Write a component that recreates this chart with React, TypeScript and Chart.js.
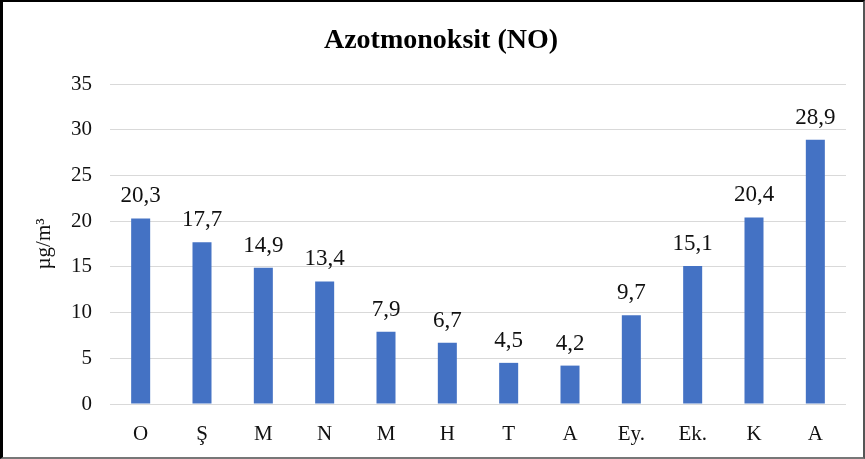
import React, { useEffect, useRef } from "react";
import { Chart, registerables } from "chart.js";

Chart.register(...registerables);

const categories = ["O", "Ş", "M", "N", "M", "H", "T", "A", "Ey.", "Ek.", "K", "A"];
const values = [20.3, 17.7, 14.9, 13.4, 7.9, 6.7, 4.5, 4.2, 9.7, 15.1, 20.4, 28.9];
const valueLabels = ["20,3", "17,7", "14,9", "13,4", "7,9", "6,7", "4,5", "4,2", "9,7", "15,1", "20,4", "28,9"];
const titleText = "Azotmonoksit (NO)";
const yTitle = "µg/m³";

const SERIF = "'Liberation Serif', 'Times New Roman', serif";

const dataLabelPlugin = {
  id: "dataLabels",
  afterDatasetsDraw(chart: any) {
    const ctx = chart.ctx;
    const meta = chart.getDatasetMeta(0);
    ctx.save();
    ctx.font = `23px ${SERIF}`;
    ctx.fillStyle = "#111";
    ctx.textAlign = "center";
    ctx.textBaseline = "alphabetic";
    meta.data.forEach((bar: any, i: number) => {
      ctx.fillText(valueLabels[i], bar.x, bar.y - 16);
    });
    ctx.restore();
  },
};

const titlePlugin = {
  id: "customTitle",
  afterDraw(chart: any) {
    const ctx = chart.ctx;
    ctx.save();
    ctx.font = `bold 28px ${SERIF}`;
    ctx.fillStyle = "#000";
    ctx.textAlign = "center";
    ctx.textBaseline = "middle";
    ctx.fillText(titleText, 441, 41);
    ctx.restore();
  },
};

export default function App() {
  const ref = useRef<HTMLCanvasElement | null>(null);
  useEffect(() => {
    if (!ref.current) return;
    const chart = new Chart(ref.current, {
      type: "bar",
      data: {
        labels: categories,
        datasets: [
          {
            data: values,
            backgroundColor: "#4472C4",
            borderWidth: 0,
            barPercentage: 0.62,
            categoryPercentage: 0.5,
          },
        ],
      },
      options: {
        animation: false,
        responsive: false,
        maintainAspectRatio: false,
        layout: { padding: { left: 0, right: 19, top: 84, bottom: 0 } },
        plugins: {
          legend: { display: false },
          tooltip: { enabled: false },
          title: { display: false },
        },
        scales: {
          x: {
            grid: { display: false, drawTicks: false },
            border: { display: false },
            ticks: { color: "#111", font: { family: SERIF, size: 21 }, padding: 18 },
            afterFit(scale: any) {
              scale.height = 55;
            },
          },
          y: {
            min: 0,
            max: 35,
            ticks: { stepSize: 5, color: "#111", font: { family: SERIF, size: 21 }, padding: 18 },
            grid: { color: "#d9d9d9", lineWidth: 1, drawTicks: false },
            border: { display: false },
            title: {
              display: true,
              text: yTitle,
              color: "#111",
              font: { family: SERIF, size: 21 },
              padding: { top: 32, bottom: 0 },
            },
            afterFit(scale: any) {
              scale.width = 110;
            },
          },
        },
      },
      plugins: [dataLabelPlugin, titlePlugin],
    });
    return () => chart.destroy();
  }, []);

  return (
    <div style={{ position: "absolute", left: 0, top: 0, width: 865, height: 459, background: "#fff" }}>
      <canvas ref={ref} width={865} height={459} style={{ display: "block" }} />
      <div
        style={{
          position: "absolute",
          left: 0,
          top: 0,
          width: 865,
          height: 459,
          boxSizing: "border-box",
          borderLeft: "3px solid #000",
          borderTop: "2px solid #000",
          borderRight: "2px solid #555",
          borderBottom: "2px solid #777",
          pointerEvents: "none",
        }}
      />
    </div>
  );
}
